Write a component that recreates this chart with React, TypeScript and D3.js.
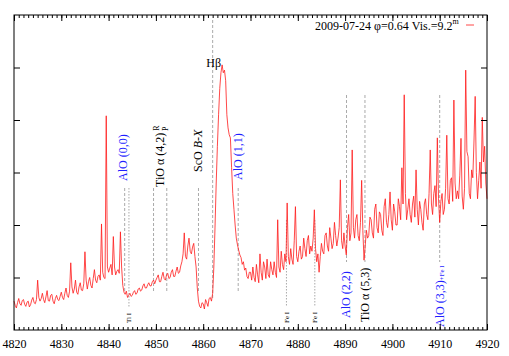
import * as d3 from "d3";
import { useEffect, useRef } from "react";

// spectrum sampled every 0.25 A from 4820 A (relative flux), 20 values per 5 A
const waveStart = 4820;
const waveStep = 0.25;
const flux = [
  0.55, 0.47, 0.42, 0.52, 0.60, 0.50, 0.47, 0.56, 0.58, 0.49, 0.45, 0.53, 0.55, 0.44, 0.48, 0.57, 0.62, 0.52, 0.50, 0.58,
  0.95, 0.62, 0.55, 0.60, 0.70, 0.58, 0.52, 0.63, 0.75, 0.56, 0.55, 0.66, 0.68, 0.55, 0.50, 0.60, 0.66, 0.58, 0.56, 0.64,
  0.72, 0.62, 0.58, 0.70, 0.80, 0.66, 0.62, 0.74, 1.28, 0.82, 0.70, 0.78, 0.95, 0.72, 0.68, 0.82, 0.90, 0.76, 0.75, 0.88,
  1.49, 0.95, 0.78, 0.92, 1.00, 0.85, 0.80, 0.98, 1.15, 0.95, 0.90, 1.02, 1.05, 0.95, 2.02, 1.10, 1.00, 0.98, 4.08, 1.20,
  1.10, 1.18, 1.25, 1.05, 1.78, 1.20, 1.05, 1.12, 1.15, 1.08, 1.87, 1.20, 0.85, 0.72, 0.68, 0.74, 0.62, 0.66, 0.70, 0.64,
  0.66, 0.72, 0.75, 0.68, 0.70, 0.78, 0.80, 0.74, 0.76, 0.84, 0.88, 0.80, 0.80, 0.86, 0.90, 0.84, 0.84, 0.92, 0.95, 0.88,
  0.95, 1.00, 1.05, 0.92, 0.92, 1.02, 1.10, 0.98, 0.95, 1.05, 1.08, 0.98, 1.00, 1.10, 1.15, 1.02, 1.02, 1.12, 1.20, 1.08,
  1.10, 1.22, 1.30, 1.45, 1.85, 1.40, 1.35, 1.60, 1.75, 1.50, 1.45, 1.58, 1.65, 1.40, 1.20, 0.80, 0.55, 0.45, 0.42, 0.52,
  0.50, 0.40, 0.58, 0.52, 0.45, 0.60, 0.62, 0.55, 0.70, 1.20, 1.96, 2.80, 3.50, 4.10, 4.60, 4.90, 5.05, 4.90, 4.95, 4.75,
  4.10, 3.85, 3.72, 3.66, 3.10, 2.60, 2.30, 2.00, 1.75, 1.62, 1.52, 1.43, 1.38, 1.25, 1.30, 1.14, 1.18, 1.02, 0.98, 1.10,
  1.10, 0.95, 1.20, 1.00, 0.92, 1.25, 1.05, 0.90, 1.45, 1.10, 0.95, 1.30, 1.20, 0.98, 1.35, 1.05, 1.00, 1.30, 1.15, 1.05,
  1.30, 1.10, 1.00, 2.10, 1.20, 1.10, 1.50, 1.25, 1.15, 1.45, 1.30, 2.42, 1.40, 1.25, 1.55, 1.35, 1.25, 1.70, 2.35, 1.40,
  1.30, 1.50, 1.60, 1.35, 1.40, 1.75, 1.55, 1.40, 1.70, 1.80, 1.45, 1.60, 1.50, 1.75, 2.29, 1.55, 1.30, 1.45, 1.10, 1.40,
  1.65, 1.50, 1.45, 1.80, 1.85, 1.60, 1.50, 1.95, 1.75, 1.55, 1.65, 2.05, 1.80, 1.60, 1.75, 1.95, 2.86, 1.70, 1.55, 1.85,
  1.60, 1.43, 1.95, 2.20, 1.70, 1.85, 3.43, 1.95, 1.75, 2.10, 2.20, 1.80, 1.70, 2.05, 2.85, 1.90, 1.33, 1.60, 1.90, 1.75,
  1.80, 2.15, 2.10, 1.85, 1.75, 2.30, 2.40, 1.95, 1.85, 2.25, 2.20, 1.90, 1.80, 2.35, 2.50, 2.05, 1.95, 2.20, 2.63, 2.10,
  1.90, 2.40, 2.25, 2.00, 2.00, 2.50, 2.35, 2.10, 3.09, 2.40, 4.48, 2.60, 2.10, 2.30, 2.50, 2.20, 2.05, 2.40, 2.55, 2.15,
  3.05, 2.30, 2.00, 2.45, 2.30, 2.05, 1.90, 2.40, 2.50, 2.20, 2.10, 2.60, 3.43, 2.40, 2.20, 2.60, 2.75, 2.35, 3.66, 2.50,
  2.05, 2.45, 2.60, 2.20, 2.30, 2.70, 3.71, 2.50, 2.40, 2.85, 2.90, 2.45, 4.38, 2.80, 2.50, 2.65, 2.50, 2.95, 3.65, 2.55,
  2.30, 2.70, 4.95, 3.40, 3.30, 2.60, 2.50, 3.05, 2.90, 3.60, 4.45, 3.00, 2.50, 2.85, 3.20, 2.70, 4.05, 3.20, 3.50, 2.80,
  2.50,
];

const xTickValues = [4820, 4830, 4840, 4850, 4860, 4870, 4880, 4890, 4900, 4910, 4920];
const yTickValues = [1, 2, 3, 4, 5];

// line identifications (wavelength in A)
const upperBandWaves = [4843.4, 4849.5, 4852.3, 4859.0, 4867.4];
const lowerBandWaves = [4890.3, 4894.2, 4910.0];
const atomWaves = [4844.3, 4877.6, 4883.6];
const atomLabels = ["Ti I", "Fe I", "Fe I"];
const hBetaWave = 4862.0;

const legendText = "2009-07-24 φ=0.64 Vis.=9.2";

const W = 509, H = 356;
const margin = { top: 15, right: 22, bottom: 26, left: 14 };
const FONT = "'Liberation Serif', 'Times New Roman', serif";
const BLUE = "#1f1fff";
const RED = "#ff1a1a";

const App = () => {
  const ref = useRef(null);

  useEffect(() => {
    const svg = d3.select(ref.current);
    svg.selectAll("*").remove();

    const x = d3.scaleLinear().domain([4820, 4920]).range([margin.left, W - margin.right]);
    const y = d3.scaleLinear().domain([0, 6]).range([H - margin.bottom, margin.top]);

    const g = svg.append("g").style("font-family", FONT);

    // marker lines
    const vline = (w, y0, y1, dash) =>
      g.append("line")
        .attr("x1", x(w)).attr("x2", x(w))
        .attr("y1", y0).attr("y2", y1)
        .attr("stroke", "#aaa").attr("stroke-width", 1)
        .attr("stroke-dasharray", dash);

    upperBandWaves.forEach((w) => vline(w, 188, 293, "3,2"));
    lowerBandWaves.forEach((w) => vline(w, 95, 262, "3,2"));
    vline(atomWaves[0], 188, 307, "1.5,1.5");
    vline(atomWaves[1], 220, 307, "1.5,1.5");
    vline(atomWaves[2], 220, 307, "1.5,1.5");
    vline(hBetaWave, 20, 300, "3,2");

    // spectrum
    const line = d3.line()
      .x((_, i) => x(waveStart + i * waveStep))
      .y((d) => y(d));
    g.append("path")
      .datum(flux)
      .attr("d", line)
      .attr("fill", "none")
      .attr("stroke", RED)
      .attr("stroke-width", 0.8)
      .attr("stroke-linejoin", "round");

    // rotated labels
    const vlabel = (cx, bottom, color, size) =>
      g.append("text")
        .attr("transform", `translate(${cx + size * 0.33},${bottom}) rotate(-90)`)
        .attr("fill", color)
        .attr("font-size", size);

    vlabel(x(upperBandWaves[0]) - 1.5, 181, BLUE, 12).text("AlO (0,0)");
    const tio = vlabel((x(upperBandWaves[1]) + x(upperBandWaves[2])) / 2, 187, "#000", 12);
    tio.append("tspan").text("TiO α (4,2)");
    tio.append("tspan").attr("font-size", 8).attr("dx", 2).attr("dy", -5).text("R");
    tio.append("tspan").attr("font-size", 8).attr("dx", -5.5).attr("dy", 9).text("P");
    const sco = vlabel(x(upperBandWaves[3]), 172, "#000", 12);
    sco.append("tspan").text("ScO ");
    sco.append("tspan").attr("font-style", "italic").text("B-X");
    vlabel(x(upperBandWaves[4]), 180, BLUE, 12).text("AlO (1,1)");

    vlabel(x(lowerBandWaves[0]), 318, BLUE, 12).text("AlO (2,2)");
    vlabel(x(lowerBandWaves[1]), 322, "#000", 12).text("TiO α (5,3)");
    const alo3 = vlabel(x(lowerBandWaves[2]), 327, BLUE, 12);
    alo3.append("tspan").text("AlO (3,3)");
    alo3.append("tspan").attr("font-size", 7).text("+Fe I");

    atomWaves.forEach((w, i) => {
      vlabel(x(w), 323, "#000", 7).text(atomLabels[i]);
    });

    g.append("text")
      .attr("x", x(hBetaWave) + 1).attr("y", 67)
      .attr("text-anchor", "middle")
      .attr("font-size", 12)
      .text("Hβ");

    // legend
    const leg = g.append("text").attr("x", 315).attr("y", 30).attr("font-size", 12);
    leg.append("tspan").text(legendText);
    leg.append("tspan").attr("font-size", 8).attr("dy", -6).text("m");
    g.append("line")
      .attr("x1", 466).attr("x2", 474).attr("y1", 25).attr("y2", 25)
      .attr("stroke", RED).attr("stroke-width", 0.8);

    // axes with inward ticks
    const minor = d3.range(4820, 4921, 1);
    const clean = (sel) => { sel.select(".domain").remove(); sel.selectAll("line").attr("stroke", "#000"); };

    g.append("g").attr("transform", `translate(0,${H - margin.bottom})`)
      .call(d3.axisBottom(x).tickValues(minor).tickSize(-3).tickFormat(() => ""))
      .call(clean);
    g.append("g").attr("transform", `translate(0,${H - margin.bottom})`)
      .call(d3.axisBottom(x).tickValues(xTickValues).tickSize(-6).tickPadding(9).tickFormat(d3.format("d")))
      .call(clean)
      .call((s) => s.selectAll("text").attr("font-size", 12).attr("font-family", FONT).attr("fill", "#000"));
    g.append("g").attr("transform", `translate(0,${margin.top})`)
      .call(d3.axisTop(x).tickValues(minor).tickSize(-3).tickFormat(() => ""))
      .call(clean);
    g.append("g").attr("transform", `translate(0,${margin.top})`)
      .call(d3.axisTop(x).tickValues(xTickValues).tickSize(-6).tickFormat(() => ""))
      .call(clean);
    g.append("g").attr("transform", `translate(${margin.left},0)`)
      .call(d3.axisLeft(y).tickValues(yTickValues).tickSize(-6).tickFormat(() => ""))
      .call(clean);
    g.append("g").attr("transform", `translate(${W - margin.right},0)`)
      .call(d3.axisRight(y).tickValues(yTickValues).tickSize(-6).tickFormat(() => ""))
      .call(clean);

    // frame
    g.append("rect")
      .attr("x", margin.left).attr("y", margin.top)
      .attr("width", W - margin.left - margin.right)
      .attr("height", H - margin.top - margin.bottom)
      .attr("fill", "none").attr("stroke", "#000").attr("stroke-width", 1);
  }, []);

  return (
    <svg
      ref={ref}
      width={W}
      height={H}
      style={{ position: "absolute", left: 0, top: 0, background: "#fff" }}
    />
  );
};

export default App;
